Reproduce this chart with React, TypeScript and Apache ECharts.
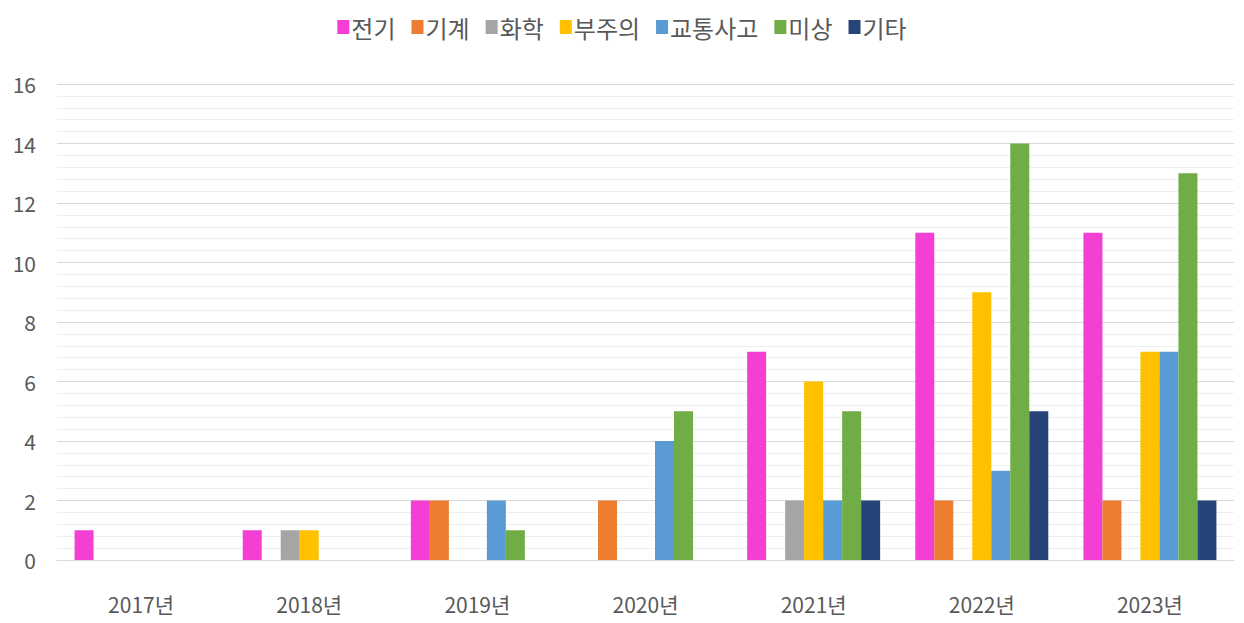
import React, { useEffect, useRef } from "react";
import * as echarts from "echarts";

const years = ["2017년", "2018년", "2019년", "2020년", "2021년", "2022년", "2023년"];
const seriesNames = ["전기", "기계", "화학", "부주의", "교통사고", "미상", "기타"];
const colors = ["#F43FD4", "#ED7D31", "#A5A5A5", "#FFC000", "#5B9BD5", "#70AD47", "#264478"];
const electric = [1, 1, 2, 0, 7, 11, 11];
const mechanical = [0, 0, 2, 2, 0, 2, 2];
const chemical = [0, 1, 0, 0, 2, 0, 0];
const carelessness = [0, 1, 0, 0, 6, 9, 7];
const traffic = [0, 0, 2, 4, 2, 3, 7];
const unknown = [0, 0, 1, 5, 5, 14, 13];
const other = [0, 0, 0, 0, 2, 5, 2];
const seriesData = [electric, mechanical, chemical, carelessness, traffic, unknown, other];

const FONT = "'Noto Sans CJK KR', 'Noto Sans', sans-serif";

export default function App() {
  const ref = useRef<HTMLDivElement>(null);
  useEffect(() => {
    document.body.style.margin = "0";
    if (!ref.current) return;
    const chart = echarts.init(ref.current, null, { renderer: "svg" });
    chart.setOption({
      animation: false,
      color: colors,
      legend: {
        top: 10,
        left: "center",
        itemWidth: 12,
        itemHeight: 14,
        itemGap: 16,
        icon: "rect",
        textStyle: { fontFamily: FONT, fontSize: 24, color: "#595959", padding: [0, 0, 0, -3] },
        data: seriesNames,
      },
      grid: { left: 57, right: 10, top: 84, bottom: 63, containLabel: false },
      xAxis: {
        type: "category",
        data: years,
        axisLine: { show: true, lineStyle: { color: "#D9D9D9" } },
        axisTick: { show: false },
        axisLabel: { fontFamily: FONT, fontSize: 21, color: "#595959", margin: 33 },
      },
      yAxis: {
        type: "value",
        min: 0,
        max: 16,
        interval: 2,
        axisLine: { show: false },
        axisTick: { show: false },
        axisLabel: { fontFamily: FONT, fontSize: 21, color: "#595959", margin: 21 },
        splitLine: { show: true, lineStyle: { color: "#D9D9D9", width: 1 } },
        minorTick: { show: false, splitNumber: 5 },
        minorSplitLine: { show: true, lineStyle: { color: "#EEEEEE", width: 1 } },
      },
      series: seriesNames.map((name, i) => ({
        name,
        type: "bar",
        data: seriesData[i],
        barWidth: 19,
        barGap: "0%",
        itemStyle: { color: colors[i] },
      })),
    });
    return () => chart.dispose();
  }, []);
  return <div ref={ref} style={{ width: 1244, height: 623 }} />;
}
